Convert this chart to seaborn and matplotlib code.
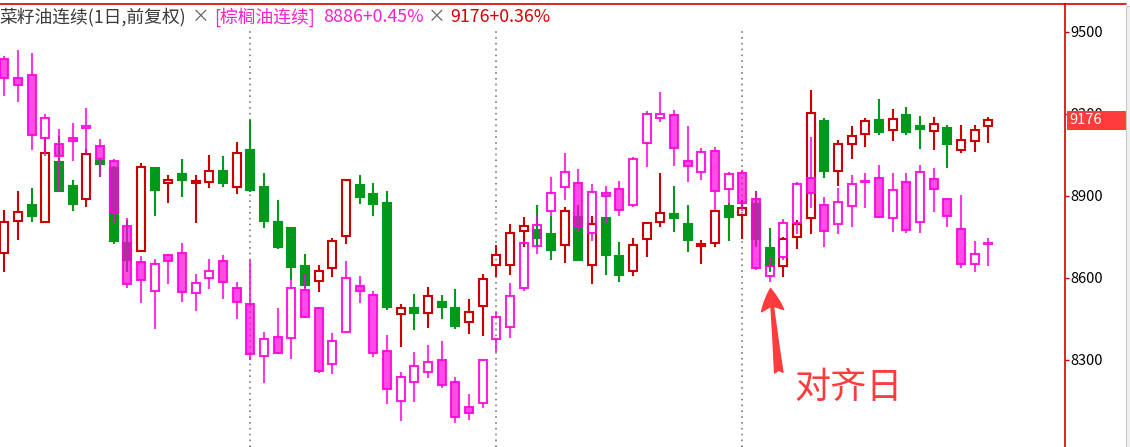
import matplotlib
matplotlib.use("Agg")
import matplotlib.pyplot as plt
import matplotlib.transforms as mtransforms
from matplotlib.colors import to_rgba
from matplotlib.lines import Line2D
from matplotlib.patches import Rectangle
import numpy as np
import seaborn as sns

# 菜籽油连续 (1日, 前复权) - daily OHLC
rs_open = [8690, 8807, 8867, 8803, 9024, 8936, 8887, 9028, 9003, 8729,
           8697, 9002, 8946, 8980, 8948, 8950, 8991, 8931, 9068, 8933,
           8805, 8783, 8643, 8587, 8635, 8752, 8940, 8907, 8874, 8467,
           8489, 8470, 8512, 8490, 8437, 8496, 8646, 8646, 8770, 8774,
           8761, 8719, 8823, 8646, 8819, 8680, 8624, 8741, 8803, 8834,
           8797, 8718, 8726, 8863, 8829, 8870, 8708, 8642, 8748, 8818,
           9173, 8990, 9089, 9125, 9177, 9140, 9195, 9155, 9136, 9149,
           9067, 9100, 9155]
rs_high = [8848, 8918, 8929, 9116, 9119, 8958, 9072, 9034, 9010, 8812,
           9020, 9006, 8977, 9035, 8977, 9050, 9046, 9097, 9178, 8984,
           8885, 8783, 8687, 8647, 8746, 8957, 8977, 8947, 8918, 8504,
           8541, 8567, 8537, 8559, 8523, 8614, 8720, 8797, 8823, 8867,
           8826, 8858, 8867, 8826, 8819, 8732, 8746, 8805, 8984, 8937,
           8867, 8739, 8848, 8875, 8884, 8919, 8781, 8751, 8812, 9288,
           9184, 9105, 9156, 9184, 9255, 9218, 9225, 9192, 9189, 9159,
           9159, 9159, 9189]
rs_low = [8623, 8740, 8806, 8803, 8916, 8846, 8861, 8970, 8725, 8623,
          8697, 8828, 8875, 8897, 8802, 8930, 8934, 8905, 8913, 8784,
          8707, 8592, 8562, 8549, 8604, 8725, 8872, 8828, 8484, 8348,
          8410, 8418, 8451, 8414, 8396, 8388, 8604, 8612, 8712, 8718,
          8667, 8656, 8663, 8579, 8612, 8586, 8608, 8678, 8787, 8769,
          8696, 8652, 8714, 8736, 8743, 8712, 8623, 8604, 8704, 8759,
          8967, 8937, 9036, 9077, 9124, 9099, 9124, 9073, 9066, 9003,
          9055, 9062, 9095]
rs_close = [8803, 8840, 8828, 9056, 8919, 8872, 9052, 9018, 8736, 8665,
            9005, 8923, 8957, 8959, 8953, 8990, 8948, 9056, 8923, 8809,
            8714, 8641, 8575, 8624, 8735, 8957, 8897, 8872, 8495, 8489,
            8473, 8532, 8495, 8425, 8474, 8595, 8682, 8763, 8789, 8747,
            8703, 8844, 8667, 8796, 8685, 8612, 8719, 8800, 8836, 8820,
            8740, 8724, 8844, 8824, 8855, 8741, 8643, 8743, 8796, 9202,
            8990, 9089, 9118, 9173, 9135, 9180, 9135, 9146, 9162, 9091,
            9103, 9140, 9176]

# [棕榈油连续] overlay, shown on the rapeseed scale (aligned on 对齐日)
pm_open = [9400, 9330, 9342, 9111, 9089, 9111, 9147, 9081, 9027, 8790,
           8658, 8551, 8684, 8691, 8543, 8598, 8662, 8562, 8503, 8313,
           8384, 8379, 8556, 8490, 8284, 8401, 8569, 8536, 8332, 8148,
           8218, 8254, 8298, 8218, 8126, 8141, 8375, 8419, 8562, 8715,
           8844, 8931, 8946, 8764, 8909, 8924, 8865, 9092, 9184, 9195,
           9027, 8986, 9063, 8924, 8983, 8887, 8607, 8675, 8802, 8964,
           8866, 8797, 8863, 8951, 8964, 8818, 8950, 8803, 8961, 8887,
           8778, 8650, 8724]
pm_high = [9412, 9434, 9423, 9200, 9145, 9167, 9222, 9108, 9035, 8819,
           8680, 8669, 8689, 8728, 8614, 8669, 8684, 8585, 8665, 8402,
           8490, 8592, 8614, 8495, 8398, 8662, 8607, 8552, 8391, 8255,
           8329, 8354, 8369, 8237, 8175, 8298, 8476, 8581, 8733, 8831,
           8969, 9057, 8998, 8944, 8936, 8955, 9042, 9211, 9280, 9214,
           9156, 9075, 9079, 8987, 8995, 8919, 8678, 8815, 8950, 9116,
           8896, 8927, 8977, 8984, 9013, 8984, 8984, 9013, 9002, 8891,
           8903, 8735, 8746]
pm_low = [9267, 9245, 9069, 9047, 8916, 9029, 9052, 8970, 8802, 8562,
          8509, 8414, 8576, 8513, 8480, 8560, 8524, 8451, 8299, 8216,
          8323, 8304, 8452, 8253, 8249, 8401, 8508, 8312, 8140, 8077,
          8147, 8235, 8198, 8070, 8081, 8125, 8330, 8381, 8550, 8686,
          8826, 8886, 8770, 8736, 8802, 8828, 8861, 9005, 9172, 9011,
          8952, 8959, 8848, 8873, 8844, 8630, 8586, 8665, 8761, 8857,
          8714, 8762, 8787, 8857, 8820, 8769, 8765, 8763, 8842, 8787,
          8637, 8620, 8645]
pm_close = [9330, 9305, 9122, 9184, 9047, 9100, 9155, 9034, 8839, 8576,
            8591, 8650, 8661, 8547, 8580, 8625, 8584, 8511, 8320, 8375,
            8326, 8562, 8458, 8260, 8368, 8598, 8550, 8326, 8192, 8236,
            8276, 8291, 8207, 8090, 8104, 8298, 8456, 8532, 8726, 8792,
            8909, 8986, 8787, 8913, 8898, 8847, 9034, 9199, 9199, 9074,
            9011, 9059, 8917, 8979, 8875, 8637, 8643, 8800, 8942, 8909,
            8770, 8876, 8942, 8953, 8824, 8920, 8776, 8986, 8924, 8825,
            8650, 8686, 8728]

y_ticks = [8300, 8600, 8900, 9200, 9500]
period_marks = [18, 36, 54]
align_day = 56
title_parts = ["菜籽油连续(1日,前复权)", "×", "[棕榈油连续]", "8886+0.45%", "×", "9176+0.36%"]
title_colors = ["#3a3a3a", "#666666", "#ff1fd0", "#ff1fd0", "#666666", "#d80000"]

RED = "#cc0000"
GREEN = "#00991a"
PINK = "#ff00dc"
AXIS_RED = "#d40000"

sns.set_style("white")
plt.rcParams['font.family'] = ['Noto Sans CJK SC', 'DejaVu Sans']

W, H = 1130, 447
fig = plt.figure(figsize=(W / 100, H / 100), dpi=100)
ax = fig.add_axes([0, 0, 1065 / W, 1 - 4 / H])

x = np.arange(len(rs_open))


def draw_candles(o, h, l, c, up_col, down_col, wick_a, edge_a, fill_a, z):
    o, h, l, c = map(np.asarray, (o, h, l, c))
    up = c >= o
    top = np.maximum(o, c)
    bot = np.minimum(o, c)
    cols = [up_col if u else down_col for u in up]
    wick = [to_rgba(col, wick_a) for col in cols]
    ax.vlines(x, top, h, colors=wick, linewidth=1.5, zorder=z)
    ax.vlines(x, l, bot, colors=wick, linewidth=1.5, zorder=z)
    face = [(0, 0, 0, 0) if u else to_rgba(col, fill_a) for u, col in zip(up, cols)]
    edge = [to_rgba(col, edge_a) for col in cols]
    ax.bar(x, top - bot, bottom=bot, width=0.58, color=face, edgecolor=edge,
           linewidth=1.5, zorder=z)


draw_candles(rs_open, rs_high, rs_low, rs_close, RED, GREEN, 1, 1, 1, 2)
draw_candles(pm_open, pm_high, pm_low, pm_close, PINK, PINK, 0.78, 0.88, 0.7, 3)

for m in period_marks:
    ax.axvline(m, ymin=0, ymax=1 - 26 / 443, color="#7a7a7a",
               linestyle=(0, (1, 2.5)), linewidth=1.2, zorder=1)

ax.set_xlim(-0.315, 77.6)
ax.set_ylim(7981, 9602)
ax.set_xticks([])
ax.yaxis.tick_right()
ax.set_yticks(y_ticks)
ax.set_yticklabels([str(t) for t in y_ticks])
ax.tick_params(axis="y", direction="out", length=3, width=1, colors=AXIS_RED,
               labelcolor="black", labelsize=10.5, pad=1)
for s in ["left", "bottom"]:
    ax.spines[s].set_visible(False)
for s in ["top", "right"]:
    ax.spines[s].set_color(AXIS_RED)
    ax.spines[s].set_linewidth(1.2)

# top line continues over the price scale; grey strip at the far right
fig.add_artist(Line2D([1065 / W, 1126 / W], [1 - 4 / H] * 2,
                      transform=fig.transFigure, color=AXIS_RED, linewidth=1.2))
fig.add_artist(Rectangle((1126 / W, 0), 4 / W, 1 - 6 / H, transform=fig.transFigure,
                         facecolor="#f0f0f0", edgecolor="#c8c8c8", linewidth=0.8))

# last price tag (sits over the 9200 label, as in the terminal)
trans = mtransforms.blended_transform_factory(ax.transAxes, ax.transData)
ax.add_patch(Rectangle((1 + 2 / 1065, rs_close[-1] - 35), 59 / 1065, 70,
                       transform=trans, clip_on=False, facecolor="#ff3b3b",
                       edgecolor="none", zorder=10))
ax.text(1 + 4 / 1065, rs_close[-1], str(rs_close[-1]), transform=trans,
        color="white", fontsize=10.5, va="center", ha="left", zorder=11, clip_on=False)

# header line, pieces chained one after another
renderer = fig.canvas.get_renderer()
xpos = -1
gaps = [6, 5, 8, 4, 5, 0]
for txt, col, gap in zip(title_parts, title_colors, gaps):
    t = fig.text(xpos / W, 1 - 17 / H, txt, color=col, fontsize=12.8,
                 ha="left", va="center")
    bb = t.get_window_extent(renderer=renderer)
    xpos = bb.x1 + gap

# alignment day marker
ax.annotate("", xy=(align_day, pm_low[align_day]), xytext=(9, -91),
            textcoords="offset pixels",
            arrowprops=dict(arrowstyle="fancy,head_length=0.8,head_width=0.8,tail_width=0.3",
                            color="#ff3b3b", shrinkA=0, shrinkB=5, mutation_scale=20),
            zorder=6)
ax.annotate("对齐日", xy=(align_day, pm_low[align_day]), xytext=(25, -106),
            textcoords="offset pixels", ha="left", va="center", fontsize=26,
            color="#ff3b3b", zorder=6)

fig.savefig("out.png", dpi=100)
